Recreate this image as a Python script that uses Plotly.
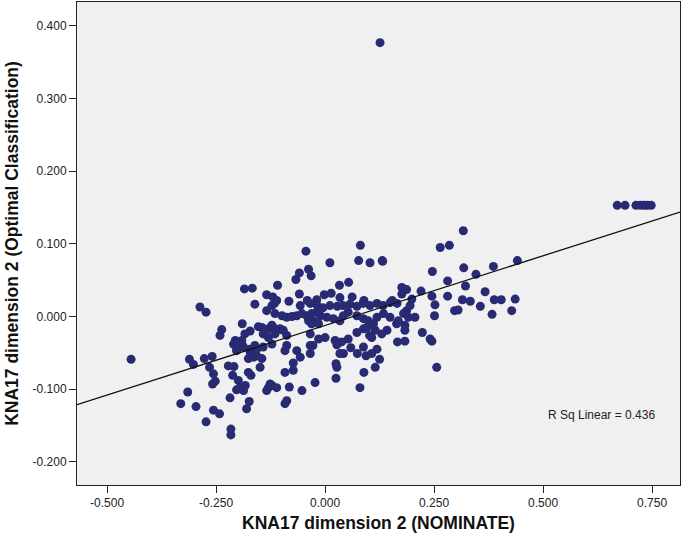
import plotly.graph_objects as go

# KNA17 dimension 2 (NOMINATE)  vs  KNA17 dimension 2 (Optimal Classification)
nominate = [
    0.126, -0.445, 0.670, 0.688, 0.713, 0.723, 0.732, 0.739, 0.748,
    0.132, 0.317, 0.264, 0.285, 0.441, 0.246, 0.318, 0.386, 0.346, 0.281,
    0.322, 0.220, 0.176, 0.187, 0.176, 0.245, 0.281, 0.367, 0.315, 0.333,
    0.388, 0.404, 0.436, 0.252, 0.356, 0.297, 0.305, 0.383, 0.428, 0.251,
    0.206, 0.223, 0.241, 0.245, 0.183, 0.183, 0.164, 0.199, 0.187, 0.195,
    0.191, 0.180, 0.256, 0.154,
    0.081, -0.044, 0.077, 0.103, 0.131, 0.011, -0.038, -0.059, -0.032, -0.067,
    -0.109, -0.185, -0.167, 0.054, 0.033, -0.134, -0.120, -0.111, -0.059, -0.161,
    -0.083, -0.057, -0.041, -0.019, -0.002, 0.014, 0.034, 0.062, 0.089, -0.287,
    -0.273, -0.116, -0.122, -0.134,
    -0.115, -0.099, -0.088, -0.076, -0.065, -0.053, -0.042, -0.031, -0.019, -0.038,
    -0.031, -0.015, -0.034, -0.018, -0.005, 0.011, 0.028, 0.041, 0.057, 0.073,
    0.087, 0.103, 0.119, 0.133, 0.149, 0.165, -0.027, -0.011, 0.004, 0.019,
    0.034, 0.042, 0.053, 0.073, 0.088, 0.099, 0.119, 0.134, 0.149, 0.168,
    -0.190, -0.237, -0.241, -0.184, -0.172, -0.145, -0.130, -0.119, -0.107, -0.096,
    -0.088, -0.115, -0.142, -0.130, -0.153, -0.122, -0.103, -0.206, -0.191, -0.203,
    -0.161, -0.142, -0.122, -0.210, -0.187, -0.203, -0.172, -0.161, -0.088, -0.092,
    -0.065, -0.034, -0.034, -0.057, -0.028, -0.034, -0.015, 0.000, 0.023, 0.038,
    0.053, 0.073, 0.088, 0.107, 0.130, 0.142, 0.166, 0.183, 0.102, 0.115,
    0.111, 0.096, 0.027, 0.034, 0.042, 0.025, 0.027, 0.025, 0.059, 0.074,
    0.088, 0.094, 0.119, 0.125, 0.115, 0.089, 0.080, 0.107,
    -0.073, -0.092, -0.073, -0.082, -0.053, -0.023, -0.088, -0.092, -0.130, -0.134,
    -0.122, -0.111, -0.126,
    -0.311, -0.302, -0.277, -0.259, -0.265, -0.256, -0.252, -0.258, -0.222, -0.209,
    -0.212, -0.199, -0.195, -0.203, -0.187, -0.183, -0.176, -0.170, -0.191, -0.172,
    -0.157, -0.145, -0.149, -0.218, -0.174, -0.180, -0.315, -0.331, -0.296, -0.256,
    -0.242, -0.273, -0.216, -0.216, -0.176, -0.164, -0.157,
]
optimal_classification = [
    0.377, -0.059, 0.153, 0.153, 0.153, 0.153, 0.153, 0.153, 0.153,
    0.076, 0.118, 0.095, 0.098, 0.077, 0.062, 0.067, 0.069, 0.058, 0.049,
    0.042, 0.035, 0.040, 0.037, 0.031, 0.028, 0.028, 0.034, 0.023, 0.021,
    0.023, 0.023, 0.024, 0.016, 0.014, 0.008, 0.009, 0.003, 0.008, 0.001,
    -0.001, -0.022, -0.031, -0.034, -0.019, -0.034, -0.010, 0.024, 0.008, 0.015,
    -0.001, 0.004, -0.070, 0.022,
    0.098, 0.090, 0.077, 0.074, 0.077, 0.074, 0.065, 0.060, 0.056, 0.051,
    0.043, 0.038, 0.039, 0.047, 0.043, 0.030, 0.027, 0.022, 0.031, 0.017,
    0.021, 0.015, 0.022, 0.023, 0.030, 0.032, 0.026, 0.027, 0.022, 0.013,
    0.006, 0.018, 0.015, 0.008,
    0.004, 0.001, -0.001, 0.000, 0.001, 0.004, 0.001, 0.004, 0.006, -0.006,
    -0.010, -0.010, 0.018, 0.015, 0.012, 0.015, 0.014, 0.015, 0.017, 0.014,
    0.018, 0.015, 0.018, 0.015, 0.019, 0.018, -0.006, 0.001, -0.001, -0.003,
    -0.006, 0.001, 0.006, 0.001, -0.003, -0.006, -0.001, 0.004, -0.001, -0.006,
    -0.010, -0.018, -0.026, -0.024, -0.020, -0.015, -0.017, -0.015, -0.018, -0.019,
    -0.026, -0.024, -0.024, -0.029, -0.014, -0.012, -0.017, -0.033, -0.038, -0.045,
    -0.040, -0.042, -0.038, -0.038, -0.042, -0.047, -0.045, -0.051, -0.040, -0.047,
    -0.047, -0.040, -0.051, -0.056, -0.040, -0.024, -0.031, -0.029, -0.033, -0.035,
    -0.031, -0.022, -0.017, -0.029, -0.024, -0.019, -0.035, -0.012, -0.026, -0.019,
    -0.010, -0.015, -0.039, -0.051, -0.051, -0.065, -0.070, -0.085, -0.043, -0.051,
    -0.042, -0.054, -0.045, -0.059, -0.070, -0.077, -0.098, -0.051,
    -0.064, -0.077, -0.074, -0.097, -0.102, -0.091, -0.116, -0.120, -0.098, -0.102,
    -0.095, -0.098, -0.093,
    -0.059, -0.066, -0.058, -0.055, -0.070, -0.079, -0.089, -0.093, -0.068, -0.069,
    -0.081, -0.088, -0.098, -0.101, -0.102, -0.095, -0.077, -0.081, -0.033, -0.049,
    -0.054, -0.058, -0.070, -0.112, -0.117, -0.127, -0.104, -0.120, -0.124, -0.129,
    -0.134, -0.145, -0.155, -0.163, -0.058, -0.056, -0.045,
]

# Linear fit line as shown in the chart
fit_slope = 0.1918
fit_intercept = -0.0123
r_sq_linear = 0.436

x_range = [-0.569, 0.814]
y_range = [-0.232, 0.433]
x_ticks = [-0.5, -0.25, 0.0, 0.25, 0.5, 0.75]
x_tick_labels = ["-0.500", "-0.250", "0.000", "0.250", "0.500", "0.750"]
y_ticks = [-0.2, -0.1, 0.0, 0.1, 0.2, 0.3, 0.4]
y_tick_labels = ["-0.200", "-0.100", "0.000", "0.100", "0.200", "0.300", "0.400"]

FONT = "Arial, 'Liberation Sans', sans-serif"

fit_x = x_range
fit_y = [fit_intercept + fit_slope * v for v in fit_x]

fig = go.Figure()
fig.add_trace(go.Scatter(
    x=nominate, y=optimal_classification, mode="markers",
    marker=dict(size=9, color="#282A74", line=dict(width=0)),
    showlegend=False, hoverinfo="x+y",
))
fig.add_trace(go.Scatter(
    x=fit_x, y=fit_y, mode="lines",
    line=dict(color="#111111", width=1.3),
    showlegend=False, hoverinfo="skip",
))

fig.add_annotation(
    x=0.762, y=-0.135, xref="x", yref="y",
    text=f"R Sq Linear = {r_sq_linear:.3f}",
    showarrow=False, xanchor="right", yanchor="middle",
    font=dict(family=FONT, size=12, color="#222222"),
)

axis_common = dict(
    showgrid=False, zeroline=False,
    showline=True, linecolor="#222222", linewidth=1, mirror=True,
    ticks="outside", ticklen=7, tickcolor="#222222", tickwidth=1,
    tickfont=dict(family=FONT, size=12, color="#222222"),
)

fig.update_layout(
    width=682, height=537,
    margin=dict(l=77, r=2, t=2, b=52, autoexpand=False),
    paper_bgcolor="white", plot_bgcolor="#F0F0F0",
    font=dict(family=FONT),
    xaxis=dict(
        range=x_range, tickvals=x_ticks, ticktext=x_tick_labels,
        title=dict(text="<b>KNA17 dimension 2 (NOMINATE)</b>",
                   font=dict(family=FONT, size=17.5, color="#111111"), standoff=7),
        **axis_common,
    ),
    yaxis=dict(
        range=y_range, tickvals=y_ticks, ticktext=y_tick_labels,
        title=dict(text="<b>KNA17 dimension 2 (Optimal Classification)</b>",
                   font=dict(family=FONT, size=17.5, color="#111111"), standoff=9),
        **axis_common,
    ),
)

fig.write_html(
    "out.html",
    config={"displayModeBar": False},
    post_script="document.body.style.margin='0px';document.body.style.padding='0px';document.body.style.overflow='hidden';",
)
